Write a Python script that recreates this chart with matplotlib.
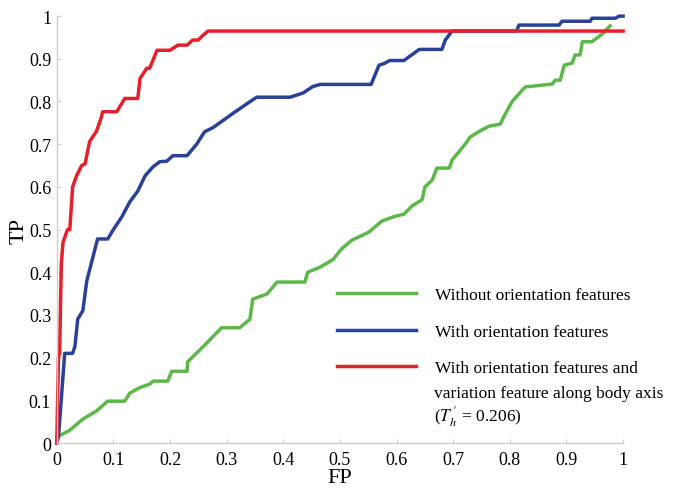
import matplotlib
matplotlib.use('Agg')
import matplotlib.pyplot as plt

plt.rcParams['font.family'] = ['Liberation Serif', 'DejaVu Serif']
plt.rcParams['mathtext.fontset'] = 'stix'

# ROC curves
fp_red = [0, 0.003, 0.005, 0.008, 0.011, 0.019, 0.023, 0.028, 0.035, 0.044, 0.05, 0.058,
          0.07, 0.078, 0.081, 0.106, 0.12, 0.143, 0.147, 0.159, 0.164, 0.177, 0.2, 0.214,
          0.23, 0.24, 0.25, 0.258, 0.267, 1.0]
tp_red = [0, 0.2, 0.21, 0.42, 0.47, 0.50, 0.50, 0.60, 0.626, 0.65, 0.654, 0.706,
          0.73, 0.76, 0.776, 0.776, 0.807, 0.807, 0.854, 0.878, 0.878, 0.92, 0.92, 0.932,
          0.932, 0.944, 0.944, 0.955, 0.965, 0.965]

fp_blue = [0, 0.003, 0.014, 0.028, 0.032, 0.037, 0.046, 0.053, 0.062, 0.072, 0.09, 0.10,
           0.115, 0.129, 0.143, 0.156, 0.17, 0.182, 0.194, 0.205, 0.23, 0.247, 0.261, 0.276,
           0.293, 0.311, 0.336, 0.353, 0.412, 0.435, 0.452, 0.465, 0.555, 0.569, 0.578, 0.588,
           0.613, 0.64, 0.68, 0.686, 0.698, 0.705, 0.812, 0.816, 0.887, 0.892, 0.942, 0.945,
           0.986, 0.993, 1.0]
tp_blue = [0, 0.015, 0.21, 0.21, 0.226, 0.29, 0.31, 0.38, 0.426, 0.478, 0.478, 0.50,
           0.53, 0.565, 0.59, 0.626, 0.647, 0.659, 0.66, 0.673, 0.673, 0.70, 0.729, 0.739,
           0.755, 0.772, 0.795, 0.81, 0.81, 0.82, 0.835, 0.84, 0.84, 0.885, 0.889, 0.896,
           0.896, 0.922, 0.922, 0.944, 0.965, 0.965, 0.965, 0.979, 0.979, 0.988, 0.988, 0.995,
           0.995, 1.0, 1.0]

fp_green = [0, 0.009, 0.023, 0.046, 0.07, 0.09, 0.12, 0.129, 0.147, 0.164, 0.17, 0.196,
            0.203, 0.23, 0.231, 0.258, 0.291, 0.323, 0.341, 0.346, 0.371, 0.389, 0.438, 0.443,
            0.465, 0.488, 0.503, 0.521, 0.551, 0.574, 0.597, 0.613, 0.627, 0.645, 0.65, 0.663,
            0.671, 0.693, 0.698, 0.71, 0.724, 0.73, 0.746, 0.763, 0.783, 0.79, 0.804, 0.827,
            0.875, 0.88, 0.889, 0.896, 0.91, 0.915, 0.924, 0.928, 0.945, 0.963, 0.977]
tp_green = [0.015, 0.02, 0.03, 0.056, 0.075, 0.098, 0.098, 0.117, 0.13, 0.138, 0.145, 0.145,
            0.168, 0.168, 0.19, 0.225, 0.27, 0.27, 0.29, 0.337, 0.349, 0.377, 0.377, 0.40,
            0.412, 0.43, 0.455, 0.475, 0.494, 0.52, 0.531, 0.536, 0.555, 0.57, 0.60, 0.616,
            0.644, 0.644, 0.663, 0.682, 0.705, 0.717, 0.73, 0.742, 0.747, 0.766, 0.80, 0.834,
            0.841, 0.85, 0.85, 0.885, 0.89, 0.909, 0.909, 0.94, 0.94, 0.958, 0.977]

labels = ['Without orientation features',
          'With orientation features',
          'With orientation features and']
extra_label = "variation feature along body axis\n($T_h^{\\,\\prime}$ = 0.206)"
ticks = [0, 0.1, 0.2, 0.3, 0.4, 0.5, 0.6, 0.7, 0.8, 0.9, 1]
tick_labels = ['0', '0.1', '0.2', '0.3', '0.4', '0.5', '0.6', '0.7', '0.8', '0.9', '1']

fig = plt.figure(figsize=(6.84, 4.89), dpi=100)
ax = fig.add_axes([0.083, 0.092, 0.828, 0.873])

ax.plot(fp_green, tp_green, color='#5cb848', lw=2.5, label=labels[0], clip_on=False)
ax.plot(fp_blue, tp_blue, color='#2b4199', lw=2.5, label=labels[1], clip_on=False)
ax.plot(fp_red, tp_red, color='#e6202a', lw=2.5, label=labels[2], clip_on=False)

ax.set_xlim(0, 1)
ax.set_ylim(0, 1)
ax.set_xticks(ticks)
ax.set_xticklabels(tick_labels)
ax.set_yticks(ticks)
ax.set_yticklabels(tick_labels)
ax.tick_params(direction='in', length=3, color='#cccccc', labelsize=13, pad=4)
ax.tick_params(axis='x', pad=6)
for s in ['top', 'right']:
    ax.spines[s].set_visible(False)
for s in ['left', 'bottom']:
    ax.spines[s].set_color('#cccccc')
    ax.spines[s].set_linewidth(1.0)

ax.set_xlabel('FP', fontsize=16, labelpad=0)
ax.set_ylabel('TP', fontsize=16, labelpad=0)

leg = ax.legend(loc='upper left', bbox_to_anchor=(0.468, 0.402), frameon=False,
                fontsize=12.5, handlelength=4.5, handletextpad=1.1, labelspacing=1.18)
ax.text(0.666, 0.085, extra_label, transform=ax.transAxes, fontsize=12.5,
        va='center', ha='left', linespacing=1.15)

fig.savefig('out.png', dpi=100)
